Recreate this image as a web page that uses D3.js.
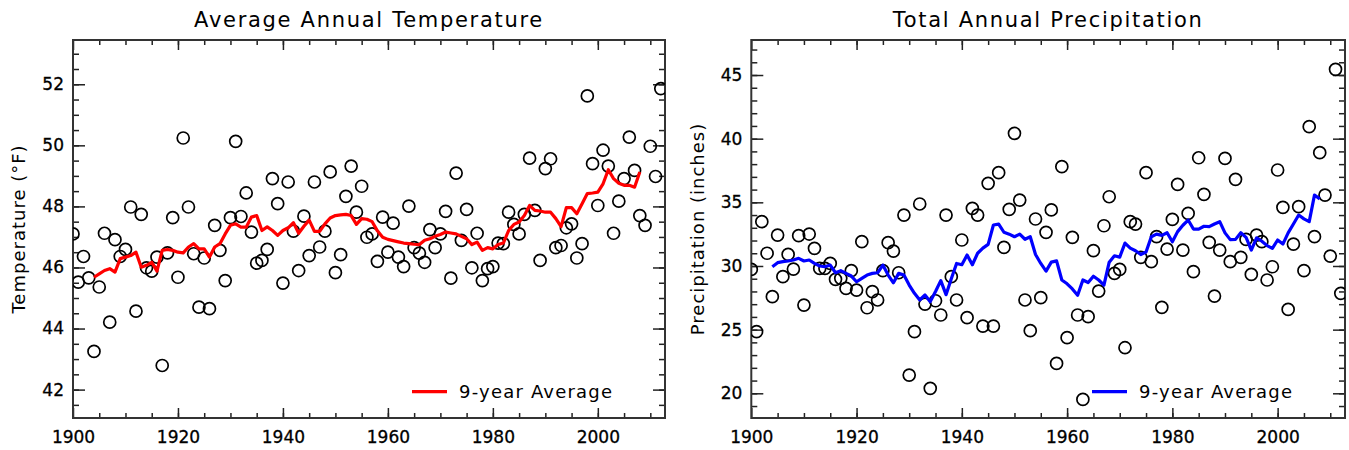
<!DOCTYPE html>
<html lang="en">
<head>
<meta charset="UTF-8">
<title>Annual Temperature and Precipitation</title>
<script src="https://cdnjs.cloudflare.com/ajax/libs/d3/7.8.5/d3.min.js"></script>
<style>
  body { margin: 0; background: #fff; }
  text { font-family: "DejaVu Sans", sans-serif; }
</style>
</head>
<body>
<svg width="1349" height="450"></svg>
<script>
const firstYear = 1900;
const avgFirstYear = 1904;

// yearly values 1900..2012
const temperature = [
  47.10, 45.52, 46.36, 45.66, 43.25, 45.36, 47.12, 44.21, 46.91, 46.36,
  46.59, 47.98, 44.57, 47.74, 45.99, 45.88, 46.34, 42.79, 46.48, 47.63,
  45.68, 50.24, 47.98, 46.45, 44.70, 46.31, 44.65, 47.38, 46.56, 45.57,
  47.63, 50.13, 47.67, 48.44, 47.16, 46.14, 46.23, 46.59, 48.91, 48.09,
  45.49, 48.80, 47.19, 45.90, 47.68, 46.39, 48.80, 46.67, 47.19, 49.13,
  45.83, 46.42, 48.33, 49.32, 47.81, 48.66, 46.99, 47.10, 46.20, 47.65,
  46.50, 47.45, 46.34, 46.03, 48.01, 46.65, 46.47, 46.17, 47.24, 46.65,
  47.10, 47.84, 45.65, 49.09, 46.89, 47.90, 45.99, 47.12, 45.57, 45.96,
  46.03, 46.80, 46.78, 47.81, 47.41, 47.10, 47.74, 49.58, 47.87, 46.23,
  49.24, 49.56, 46.65, 46.72, 47.30, 47.43, 46.31, 46.78, 51.62, 49.40,
  48.03, 49.84, 49.32, 47.12, 48.17, 48.91, 50.27, 49.18, 47.70, 47.38,
  49.97, 48.98, 51.86
];

// 9-year average 1904..2008
const temperatureAvg = [
  45.68, 45.79, 45.90, 45.96, 45.85, 46.29, 46.34, 46.39, 46.50, 46.01,
  46.07, 46.17, 45.88, 46.56, 46.59, 46.56, 46.50, 46.48, 46.67, 46.78,
  46.61, 46.61, 46.34, 46.67, 46.78, 47.10, 47.38, 47.43, 47.32, 47.32,
  47.65, 47.70, 47.21, 47.33, 47.21, 47.05, 47.21, 47.30, 47.47, 47.12,
  47.35, 47.55, 47.18, 47.18, 47.43, 47.62, 47.70, 47.72, 47.74, 47.70,
  47.41, 47.60, 47.58, 47.50, 47.20, 46.99, 46.92, 46.88, 46.84, 46.80,
  46.78, 46.76, 46.75, 46.89, 46.94, 47.02, 47.08, 47.16, 47.13, 47.10,
  47.02, 46.94, 46.75, 46.83, 46.56, 46.65, 46.61, 46.75, 46.80, 47.21,
  47.41, 47.49, 47.70, 48.03, 47.87, 47.85, 47.81, 47.81, 47.60, 47.34,
  47.96, 47.96, 47.76, 48.09, 48.42, 48.44, 48.47, 48.74, 49.20, 48.91,
  48.76, 48.69, 48.69, 48.63, 49.13
];

// yearly totals 1900..2012
const precipitation = [
  29.73, 24.84, 33.48, 31.00, 27.59, 32.43, 29.16, 30.91, 29.76, 32.38,
  26.93, 32.51, 31.39, 29.81, 29.81, 30.20, 28.95, 29.03, 28.24, 29.63,
  28.11, 31.91, 26.72, 27.98, 27.33, 29.63, 31.83, 31.17, 29.47, 34.00,
  21.43, 24.84, 34.87, 27.01, 20.39, 27.27, 26.15, 34.00, 29.16, 27.33,
  32.04, 25.94, 34.53, 34.00, 25.28, 36.49, 25.28, 37.33, 31.46, 34.45,
  40.42, 35.18, 27.33, 24.92, 33.69, 27.51, 32.64, 34.40, 22.35, 37.80,
  24.37, 32.25, 26.15, 19.52, 26.02, 31.20, 28.03, 33.16, 35.44, 29.42,
  29.73, 23.58, 33.48, 33.29, 30.68, 37.33, 30.34, 32.30, 26.75, 31.33,
  33.66, 36.41, 31.25, 34.13, 29.55, 38.50, 35.63, 31.86, 27.64, 31.25,
  38.45, 30.34, 36.81, 30.68, 32.09, 29.34, 32.43, 31.91, 28.90, 29.94,
  37.54, 34.61, 26.59, 31.72, 34.66, 29.63, 40.94, 32.30, 38.90, 35.57,
  30.78, 45.45, 27.85
];

// 9-year average 1904..2008
const precipitationAvg = [
  29.94, 30.26, 30.34, 30.39, 30.47, 30.60, 30.39, 30.47, 30.21, 30.00,
  29.94, 30.07, 29.47, 29.63, 29.42, 29.21, 28.76, 29.03, 29.29, 29.42,
  29.47, 30.07, 29.29, 28.68, 29.42, 29.29, 28.50, 27.85, 27.33, 27.72,
  27.20, 28.00, 28.85, 27.75, 29.00, 30.20, 30.10, 30.86, 30.10, 31.00,
  31.40, 31.70, 33.22, 33.29, 32.65, 32.50, 32.30, 32.50, 32.10, 32.30,
  30.90, 30.20, 29.60, 30.30, 30.40, 28.90, 28.60, 28.20, 27.70, 28.90,
  28.70, 29.20, 28.90, 28.50, 30.30, 30.80, 30.70, 31.80, 31.40, 31.20,
  30.90, 31.10, 32.30, 32.50, 32.40, 32.61, 31.90, 32.70, 33.20, 33.61,
  32.90, 32.90, 33.12, 33.09, 33.30, 33.48, 32.60, 32.07, 32.09, 32.61,
  32.25, 31.25, 32.20, 31.95, 31.60, 31.38, 32.04, 31.72, 32.60, 33.30,
  34.00, 33.70, 33.48, 35.57, 35.27
];

const yearTicks = [1900, 1920, 1940, 1960, 1980, 2000];
const tempTicks = [42, 44, 46, 48, 50, 52];
const precipTicks = [20, 25, 30, 35, 40, 45];

const svg = d3.select('svg');

function drawPanel(p) {
    const x = d3.scaleLinear().domain([1900, 2012.8]).range([p.left, p.right]);
    const y = d3.scaleLinear().domain(p.yDomain).range([p.bottom, p.top]);

    svg.append('clipPath').attr('id', 'clip-' + p.name)
        .append('rect')
        .attr('x', p.left).attr('y', p.top)
        .attr('width', p.right - p.left).attr('height', p.bottom - p.top);

    const g = svg.append('g');

    const axes = [
        [d3.axisBottom(x).tickValues(yearTicks).tickFormat(d3.format('d')).tickSize(-10).tickPadding(13), p.bottom, 0],
        [d3.axisBottom(x).tickValues(d3.range(1905, 2013, 5)).tickFormat('').tickSize(-5), p.bottom, 0],
        [d3.axisTop(x).tickValues(yearTicks).tickFormat('').tickSize(-10), p.top, 0],
        [d3.axisTop(x).tickValues(d3.range(1905, 2013, 5)).tickFormat('').tickSize(-5), p.top, 0],
        [d3.axisLeft(y).tickValues(p.yTicks).tickSize(-12).tickPadding(9), 0, p.left],
        [d3.axisLeft(y).tickValues(p.yMinor).tickFormat('').tickSize(-6), 0, p.left],
        [d3.axisRight(y).tickValues(p.yTicks).tickFormat('').tickSize(-12), 0, p.right],
        [d3.axisRight(y).tickValues(p.yMinor).tickFormat('').tickSize(-6), 0, p.right]
    ];
    axes.forEach(([axis, ty, tx]) => {
        const a = g.append('g')
            .attr('transform', `translate(${tx},${ty})`)
            .call(axis);
        a.select('.domain').remove();
        a.selectAll('line').attr('stroke', '#222').attr('stroke-width', 1.5);
        a.selectAll('text')
            .attr('font-family', '"DejaVu Sans", sans-serif')
            .attr('font-size', '17px')
            .attr('fill', '#000')
            .attr('stroke', '#000')
            .attr('stroke-width', 0.3);
    });

    // frame
    g.append('rect')
        .attr('x', p.left).attr('y', p.top)
        .attr('width', p.right - p.left).attr('height', p.bottom - p.top)
        .attr('fill', 'none').attr('stroke', '#333').attr('stroke-width', 2);

    const plot = g.append('g').attr('clip-path', `url(#clip-${p.name})`);

    plot.selectAll('circle')
        .data(p.values)
        .join('circle')
        .attr('cx', (d, i) => x(firstYear + i))
        .attr('cy', d => y(d))
        .attr('r', 6)
        .attr('fill', 'none')
        .attr('stroke', '#000')
        .attr('stroke-width', 1.7);

    const line = d3.line()
        .x((d, i) => x(avgFirstYear + i))
        .y(d => y(d));

    plot.append('path')
        .datum(p.avg)
        .attr('d', line)
        .attr('fill', 'none')
        .attr('stroke', p.color)
        .attr('stroke-width', 3.2)
        .attr('stroke-linejoin', 'round');

    // title
    g.append('text')
        .attr('x', (p.left + p.right) / 2)
        .attr('y', 27)
        .attr('text-anchor', 'middle')
        .attr('font-size', '21px')
        .attr('letter-spacing', '1.7px')
        .text(p.title);

    // y label
    g.append('text')
        .attr('transform', `translate(${p.labelX},${(p.top + p.bottom) / 2}) rotate(-90)`)
        .attr('text-anchor', 'middle')
        .attr('font-size', '18px')
        .attr('letter-spacing', '1px')
        .text(p.yLabel);

    // legend
    const ly = 391.7;
    g.append('line')
        .attr('x1', p.right - 253).attr('x2', p.right - 218)
        .attr('y1', ly).attr('y2', ly)
        .attr('stroke', p.color).attr('stroke-width', 3.2);
    g.append('text')
        .attr('x', p.right - 206)
        .attr('y', ly + 6)
        .attr('font-size', '18px')
        .attr('letter-spacing', '1.2px')
        .text('9-year Average');
}

drawPanel({
    name: 'temp', left: 73, right: 665, top: 40, bottom: 418,
    yDomain: [41.07, 53.45], yTicks: tempTicks, yMinor: d3.range(41.5, 53.1, 0.5),
    values: temperature, avg: temperatureAvg, color: '#ff0000',
    title: 'Average Annual Temperature', yLabel: 'Temperature (°F)', labelX: 25
});

drawPanel({
    name: 'precip', left: 751.3, right: 1345, top: 40, bottom: 418,
    yDomain: [18.06, 47.75], yTicks: precipTicks, yMinor: d3.range(19, 48, 1),
    values: precipitation, avg: precipitationAvg, color: '#0000ff',
    title: 'Total Annual Precipitation', yLabel: 'Precipitation (inches)', labelX: 704
});
</script>
</body>
</html>
